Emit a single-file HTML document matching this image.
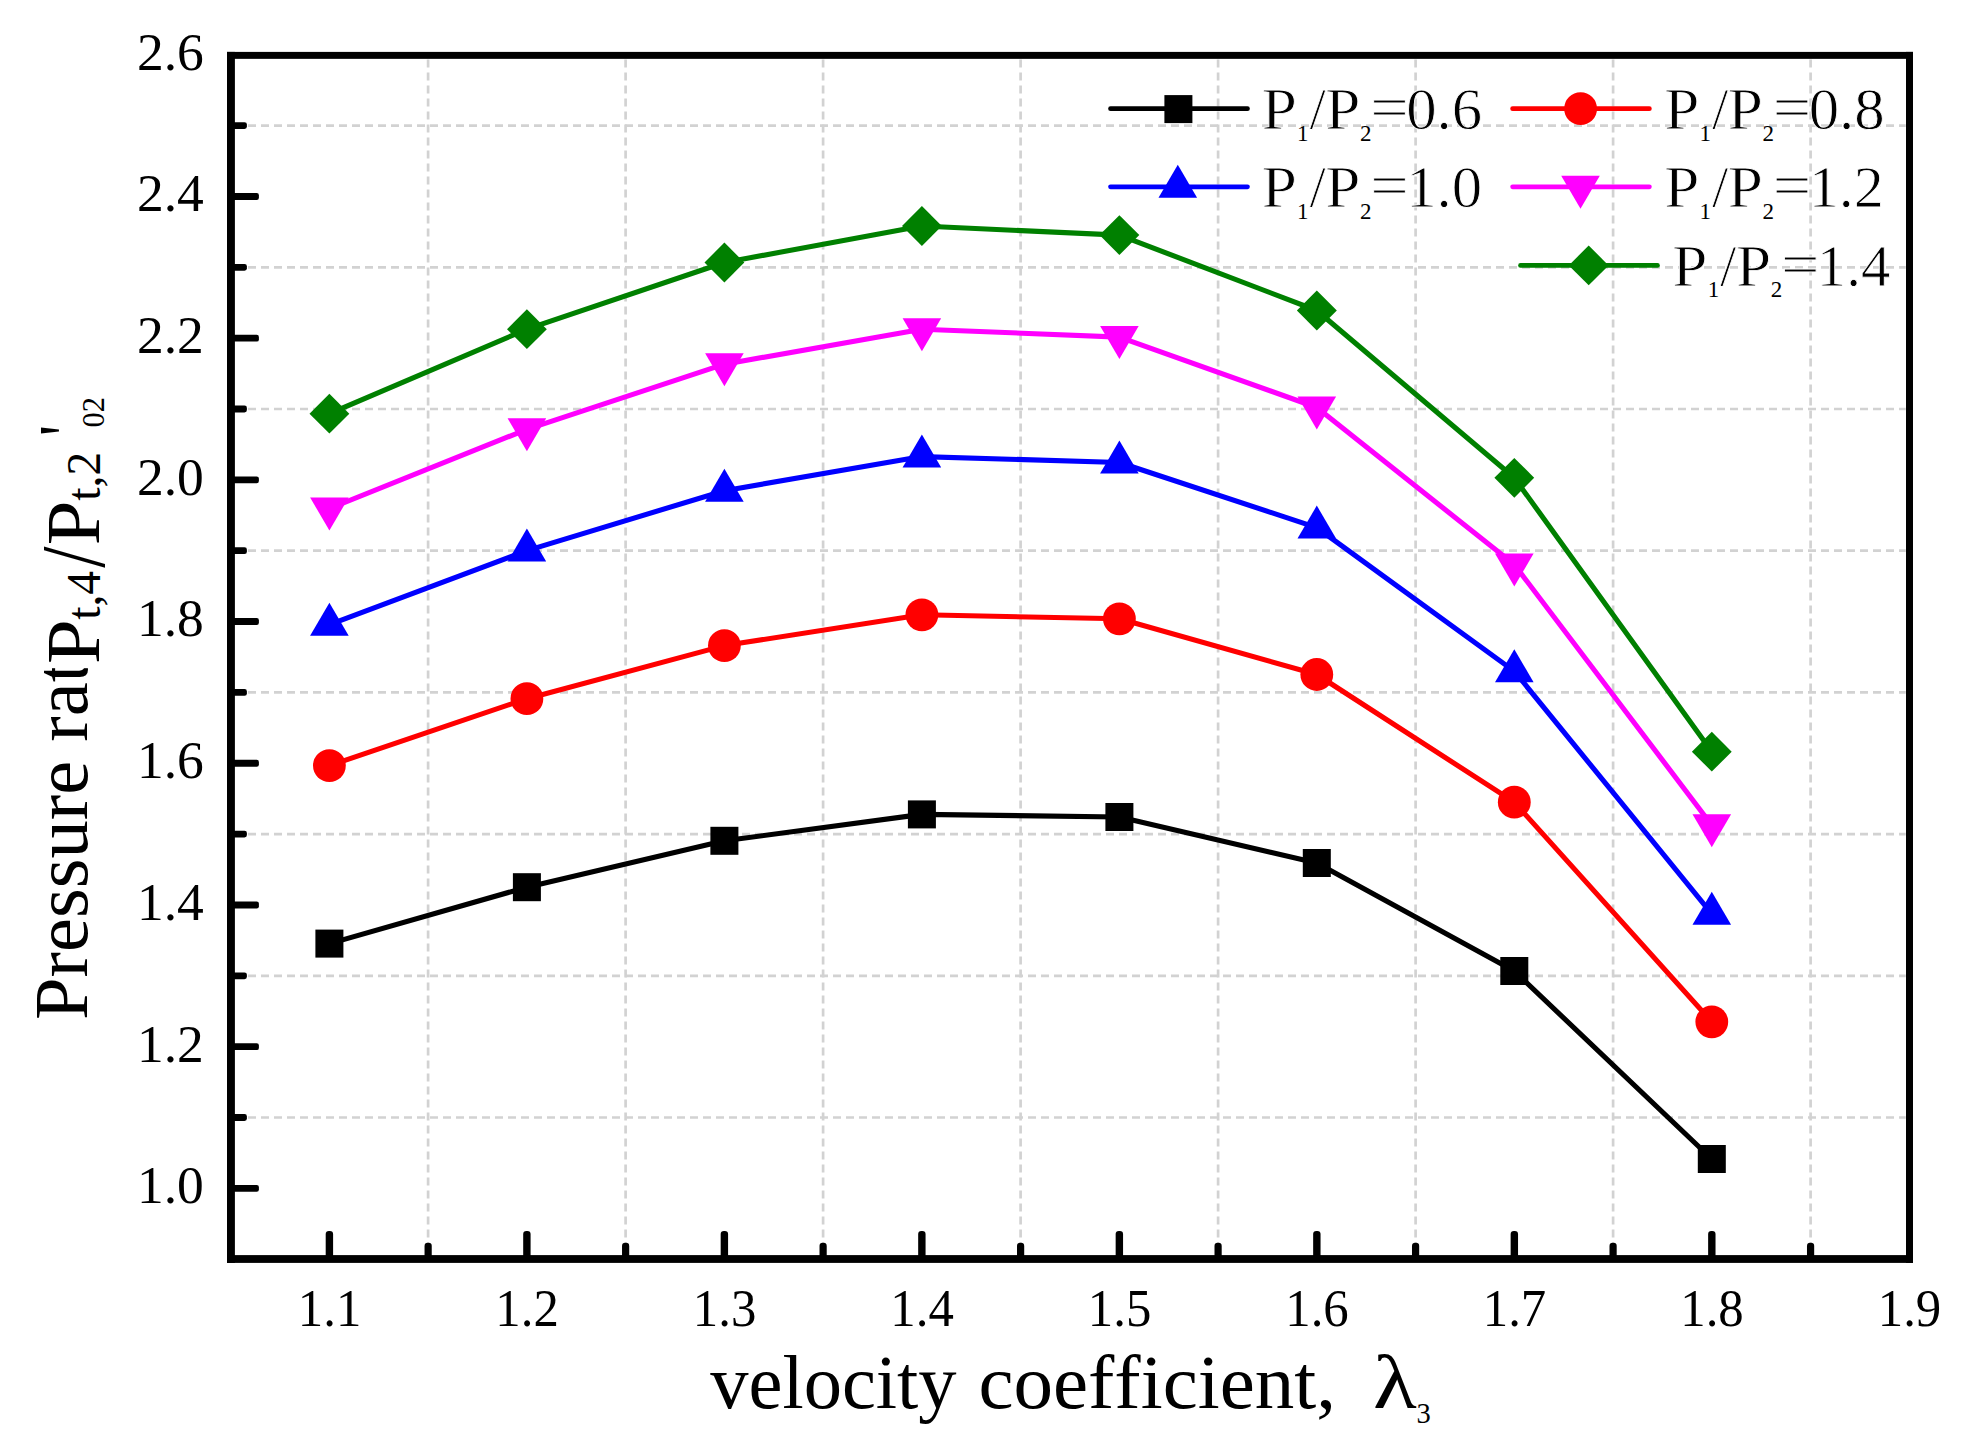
<!DOCTYPE html>
<html lang="en"><head><meta charset="utf-8"><title>Pressure ratio vs velocity coefficient</title>
<style>
html,body{margin:0;padding:0;background:#fff;}
body{width:1966px;height:1447px;overflow:hidden;}
svg{display:block;}
text{font-family:"Liberation Serif","Times New Roman",serif;fill:#000;font-variant-ligatures:none;font-kerning:none;}
.tk{font-size:53.5px;}
.lg{font-size:58.5px;stroke:#fff;stroke-width:0.8px;}
.ls{font-size:23px;stroke:none;}
.ax{font-size:76.5px;}
.as{font-size:47.5px;}
</style></head><body>
<svg width="1966" height="1447" viewBox="0 0 1966 1447">
<rect x="0" y="0" width="1966" height="1447" fill="#ffffff"/>
<g stroke="#d2d2d2" stroke-width="2.7" stroke-dasharray="8 5" fill="none">
<line x1="428.1" y1="59.5" x2="428.1" y2="1255.0"/>
<line x1="625.6" y1="59.5" x2="625.6" y2="1255.0"/>
<line x1="823.1" y1="59.5" x2="823.1" y2="1255.0"/>
<line x1="1020.6" y1="59.5" x2="1020.6" y2="1255.0"/>
<line x1="1218.1" y1="59.5" x2="1218.1" y2="1255.0"/>
<line x1="1415.6" y1="59.5" x2="1415.6" y2="1255.0"/>
<line x1="1613.1" y1="59.5" x2="1613.1" y2="1255.0"/>
<line x1="1810.6" y1="59.5" x2="1810.6" y2="1255.0"/>
<line x1="235.0" y1="1117.5" x2="1905.7" y2="1117.5"/>
<line x1="235.0" y1="975.8" x2="1905.7" y2="975.8"/>
<line x1="235.0" y1="834.1" x2="1905.7" y2="834.1"/>
<line x1="235.0" y1="692.4" x2="1905.7" y2="692.4"/>
<line x1="235.0" y1="550.7" x2="1905.7" y2="550.7"/>
<line x1="235.0" y1="409.0" x2="1905.7" y2="409.0"/>
<line x1="235.0" y1="267.3" x2="1905.7" y2="267.3"/>
<line x1="235.0" y1="125.6" x2="1905.7" y2="125.6"/>
</g>
<polyline points="329.4,943.6 526.9,887.2 724.4,840.8 921.9,814.4 1119.4,817.0 1316.8,863.0 1514.3,971.0 1711.8,1159.0" fill="none" stroke="#000000" stroke-width="5.1" stroke-linejoin="round"/>
<rect x="315.4" y="929.6" width="28.0" height="28.0" fill="#000000"/>
<rect x="512.9" y="873.2" width="28.0" height="28.0" fill="#000000"/>
<rect x="710.4" y="826.8" width="28.0" height="28.0" fill="#000000"/>
<rect x="907.9" y="800.4" width="28.0" height="28.0" fill="#000000"/>
<rect x="1105.4" y="803.0" width="28.0" height="28.0" fill="#000000"/>
<rect x="1302.8" y="849.0" width="28.0" height="28.0" fill="#000000"/>
<rect x="1500.3" y="957.0" width="28.0" height="28.0" fill="#000000"/>
<rect x="1697.8" y="1145.0" width="28.0" height="28.0" fill="#000000"/>
<polyline points="329.4,765.6 526.9,698.7 724.4,645.6 921.9,614.8 1119.4,618.8 1316.8,674.5 1514.3,802.2 1711.8,1021.8" fill="none" stroke="#ff0000" stroke-width="5.1" stroke-linejoin="round"/>
<circle cx="329.4" cy="765.6" r="16.4" fill="#ff0000"/>
<circle cx="526.9" cy="698.7" r="16.4" fill="#ff0000"/>
<circle cx="724.4" cy="645.6" r="16.4" fill="#ff0000"/>
<circle cx="921.9" cy="614.8" r="16.4" fill="#ff0000"/>
<circle cx="1119.4" cy="618.8" r="16.4" fill="#ff0000"/>
<circle cx="1316.8" cy="674.5" r="16.4" fill="#ff0000"/>
<circle cx="1514.3" cy="802.2" r="16.4" fill="#ff0000"/>
<circle cx="1711.8" cy="1021.8" r="16.4" fill="#ff0000"/>
<polyline points="329.4,624.7 526.9,550.6 724.4,490.7 921.9,456.6 1119.4,462.5 1316.8,527.6 1514.3,671.2 1711.8,913.8" fill="none" stroke="#0000ff" stroke-width="5.1" stroke-linejoin="round"/>
<polygon points="329.4,602.7 348.7,635.7 310.1,635.7" fill="#0000ff"/>
<polygon points="526.9,528.6 546.2,561.6 507.6,561.6" fill="#0000ff"/>
<polygon points="724.4,468.7 743.7,501.7 705.1,501.7" fill="#0000ff"/>
<polygon points="921.9,434.6 941.2,467.6 902.6,467.6" fill="#0000ff"/>
<polygon points="1119.4,440.5 1138.7,473.5 1100.1,473.5" fill="#0000ff"/>
<polygon points="1316.8,505.6 1336.1,538.6 1297.5,538.6" fill="#0000ff"/>
<polygon points="1514.3,649.2 1533.6,682.2 1495.0,682.2" fill="#0000ff"/>
<polygon points="1711.8,891.8 1731.1,924.8 1692.5,924.8" fill="#0000ff"/>
<polyline points="329.4,508.5 526.9,429.3 724.4,364.2 921.9,329.2 1119.4,337.1 1316.8,407.5 1514.3,564.6 1711.8,825.2" fill="none" stroke="#ff00ff" stroke-width="5.1" stroke-linejoin="round"/>
<polygon points="329.4,530.5 348.7,497.5 310.1,497.5" fill="#ff00ff"/>
<polygon points="526.9,451.3 546.2,418.3 507.6,418.3" fill="#ff00ff"/>
<polygon points="724.4,386.2 743.7,353.2 705.1,353.2" fill="#ff00ff"/>
<polygon points="921.9,351.2 941.2,318.2 902.6,318.2" fill="#ff00ff"/>
<polygon points="1119.4,359.1 1138.7,326.1 1100.1,326.1" fill="#ff00ff"/>
<polygon points="1316.8,429.5 1336.1,396.5 1297.5,396.5" fill="#ff00ff"/>
<polygon points="1514.3,586.6 1533.6,553.6 1495.0,553.6" fill="#ff00ff"/>
<polygon points="1711.8,847.2 1731.1,814.2 1692.5,814.2" fill="#ff00ff"/>
<polyline points="329.4,413.7 526.9,329.2 724.4,262.5 921.9,226.0 1119.4,235.1 1316.8,310.5 1514.3,477.8 1711.8,751.7" fill="none" stroke="#008000" stroke-width="5.1" stroke-linejoin="round"/>
<polygon points="329.4,393.8 349.3,413.7 329.4,433.6 309.5,413.7" fill="#008000"/>
<polygon points="526.9,309.3 546.8,329.2 526.9,349.1 507.0,329.2" fill="#008000"/>
<polygon points="724.4,242.6 744.3,262.5 724.4,282.4 704.5,262.5" fill="#008000"/>
<polygon points="921.9,206.1 941.8,226.0 921.9,245.9 902.0,226.0" fill="#008000"/>
<polygon points="1119.4,215.2 1139.3,235.1 1119.4,255.0 1099.5,235.1" fill="#008000"/>
<polygon points="1316.8,290.6 1336.8,310.5 1316.8,330.4 1296.9,310.5" fill="#008000"/>
<polygon points="1514.3,457.9 1534.2,477.8 1514.3,497.7 1494.4,477.8" fill="#008000"/>
<polygon points="1711.8,731.8 1731.7,751.7 1711.8,771.6 1691.9,751.7" fill="#008000"/>
<g fill="#000">
<rect x="230" y="1184.90" width="28.9" height="6.9" rx="2.2"/>
<rect x="230" y="1043.20" width="28.9" height="6.9" rx="2.2"/>
<rect x="230" y="901.50" width="28.9" height="6.9" rx="2.2"/>
<rect x="230" y="759.80" width="28.9" height="6.9" rx="2.2"/>
<rect x="230" y="618.10" width="28.9" height="6.9" rx="2.2"/>
<rect x="230" y="476.40" width="28.9" height="6.9" rx="2.2"/>
<rect x="230" y="334.70" width="28.9" height="6.9" rx="2.2"/>
<rect x="230" y="193.00" width="28.9" height="6.9" rx="2.2"/>
<rect x="230" y="1114.10" width="16.9" height="6.8" rx="2.4"/>
<rect x="230" y="972.40" width="16.9" height="6.8" rx="2.4"/>
<rect x="230" y="830.70" width="16.9" height="6.8" rx="2.4"/>
<rect x="230" y="689.00" width="16.9" height="6.8" rx="2.4"/>
<rect x="230" y="547.30" width="16.9" height="6.8" rx="2.4"/>
<rect x="230" y="405.60" width="16.9" height="6.8" rx="2.4"/>
<rect x="230" y="263.90" width="16.9" height="6.8" rx="2.4"/>
<rect x="230" y="122.20" width="16.9" height="6.8" rx="2.4"/>
<rect x="325.70" y="1230.9" width="7.4" height="28" rx="3.2"/>
<rect x="523.19" y="1230.9" width="7.4" height="28" rx="3.2"/>
<rect x="720.68" y="1230.9" width="7.4" height="28" rx="3.2"/>
<rect x="918.17" y="1230.9" width="7.4" height="28" rx="3.2"/>
<rect x="1115.66" y="1230.9" width="7.4" height="28" rx="3.2"/>
<rect x="1313.15" y="1230.9" width="7.4" height="28" rx="3.2"/>
<rect x="1510.64" y="1230.9" width="7.4" height="28" rx="3.2"/>
<rect x="1708.13" y="1230.9" width="7.4" height="28" rx="3.2"/>
<rect x="424.54" y="1242.7" width="7.2" height="16" rx="3.2"/>
<rect x="622.03" y="1242.7" width="7.2" height="16" rx="3.2"/>
<rect x="819.52" y="1242.7" width="7.2" height="16" rx="3.2"/>
<rect x="1017.01" y="1242.7" width="7.2" height="16" rx="3.2"/>
<rect x="1214.50" y="1242.7" width="7.2" height="16" rx="3.2"/>
<rect x="1411.99" y="1242.7" width="7.2" height="16" rx="3.2"/>
<rect x="1609.49" y="1242.7" width="7.2" height="16" rx="3.2"/>
<rect x="1806.98" y="1242.7" width="7.2" height="16" rx="3.2"/>
</g>
<g fill="#000">
<rect x="227.0" y="51.9" width="7.9" height="1211.0"/>
<rect x="227.0" y="1255.1" width="1686.0" height="7.8"/>
<rect x="227.0" y="51.9" width="1686.0" height="6.95"/>
<rect x="1906.0" y="51.9" width="7.0" height="1211.0"/>
</g>
<text class="tk" x="203.8" y="1203.2" text-anchor="end">1.0</text>
<text class="tk" x="203.8" y="1061.5" text-anchor="end">1.2</text>
<text class="tk" x="203.8" y="919.8" text-anchor="end">1.4</text>
<text class="tk" x="203.8" y="778.0" text-anchor="end">1.6</text>
<text class="tk" x="203.8" y="636.4" text-anchor="end">1.8</text>
<text class="tk" x="203.8" y="494.7" text-anchor="end">2.0</text>
<text class="tk" x="203.8" y="352.9" text-anchor="end">2.2</text>
<text class="tk" x="203.8" y="211.2" text-anchor="end">2.4</text>
<text class="tk" x="203.8" y="69.5" text-anchor="end">2.6</text>
<text class="tk" transform="translate(329.6,1326.2) scale(0.95,1)" text-anchor="middle">1.1</text>
<text class="tk" transform="translate(527.1,1326.2) scale(0.95,1)" text-anchor="middle">1.2</text>
<text class="tk" transform="translate(724.6,1326.2) scale(0.95,1)" text-anchor="middle">1.3</text>
<text class="tk" transform="translate(922.1,1326.2) scale(0.95,1)" text-anchor="middle">1.4</text>
<text class="tk" transform="translate(1119.6,1326.2) scale(0.95,1)" text-anchor="middle">1.5</text>
<text class="tk" transform="translate(1317.0,1326.2) scale(0.95,1)" text-anchor="middle">1.6</text>
<text class="tk" transform="translate(1514.5,1326.2) scale(0.95,1)" text-anchor="middle">1.7</text>
<text class="tk" transform="translate(1712.0,1326.2) scale(0.95,1)" text-anchor="middle">1.8</text>
<text class="tk" transform="translate(1909.5,1326.2) scale(0.95,1)" text-anchor="middle">1.9</text>
<line x1="1110.5" y1="108.7" x2="1247.5" y2="108.7" stroke="#000000" stroke-width="4.7" stroke-linecap="round"/>
<rect x="1164.4" y="95.1" width="28.0" height="28.0" fill="#000000"/>
<text class="lg"><tspan x="1261.7" y="129.1" textLength="35.15" lengthAdjust="spacingAndGlyphs">P</tspan><tspan class="ls" x="1297.1" y="140.8">1</tspan><tspan x="1309.5" y="129.1">/</tspan><tspan x="1325.3" y="129.1" textLength="35.15" lengthAdjust="spacingAndGlyphs">P</tspan><tspan class="ls" x="1360.1" y="140.8">2</tspan><tspan x="1370.3" y="127.1" textLength="38.45" lengthAdjust="spacingAndGlyphs">=</tspan><tspan x="1406.2" y="129.1" textLength="76.04" lengthAdjust="spacingAndGlyphs">0.6</tspan></text>
<line x1="1512.6" y1="108.7" x2="1649.4" y2="108.7" stroke="#ff0000" stroke-width="4.7" stroke-linecap="round"/>
<circle cx="1580.6" cy="108.7" r="16.4" fill="#ff0000"/>
<text class="lg"><tspan x="1664.2" y="129.1" textLength="35.15" lengthAdjust="spacingAndGlyphs">P</tspan><tspan class="ls" x="1699.6" y="140.8">1</tspan><tspan x="1712.0" y="129.1">/</tspan><tspan x="1727.8" y="129.1" textLength="35.15" lengthAdjust="spacingAndGlyphs">P</tspan><tspan class="ls" x="1762.6" y="140.8">2</tspan><tspan x="1772.8" y="127.1" textLength="38.45" lengthAdjust="spacingAndGlyphs">=</tspan><tspan x="1808.7" y="129.1" textLength="76.04" lengthAdjust="spacingAndGlyphs">0.8</tspan></text>
<line x1="1110.5" y1="186.8" x2="1247.5" y2="186.8" stroke="#0000ff" stroke-width="4.7" stroke-linecap="round"/>
<polygon points="1177.8,164.8 1197.1,197.8 1158.5,197.8" fill="#0000ff"/>
<text class="lg"><tspan x="1261.7" y="207.4" textLength="35.15" lengthAdjust="spacingAndGlyphs">P</tspan><tspan class="ls" x="1297.1" y="219.1">1</tspan><tspan x="1309.5" y="207.4">/</tspan><tspan x="1325.3" y="207.4" textLength="35.15" lengthAdjust="spacingAndGlyphs">P</tspan><tspan class="ls" x="1360.1" y="219.1">2</tspan><tspan x="1370.3" y="205.4" textLength="38.45" lengthAdjust="spacingAndGlyphs">=</tspan><tspan x="1406.2" y="207.4" textLength="76.04" lengthAdjust="spacingAndGlyphs">1.0</tspan></text>
<line x1="1512.6" y1="186.8" x2="1649.4" y2="186.8" stroke="#ff00ff" stroke-width="4.7" stroke-linecap="round"/>
<polygon points="1580.5,208.8 1599.8,175.8 1561.2,175.8" fill="#ff00ff"/>
<text class="lg"><tspan x="1664.2" y="207.4" textLength="35.15" lengthAdjust="spacingAndGlyphs">P</tspan><tspan class="ls" x="1699.6" y="219.1">1</tspan><tspan x="1712.0" y="207.4">/</tspan><tspan x="1727.8" y="207.4" textLength="35.15" lengthAdjust="spacingAndGlyphs">P</tspan><tspan class="ls" x="1762.6" y="219.1">2</tspan><tspan x="1772.8" y="205.4" textLength="38.45" lengthAdjust="spacingAndGlyphs">=</tspan><tspan x="1808.7" y="207.4" textLength="74.95" lengthAdjust="spacingAndGlyphs">1.2</tspan></text>
<line x1="1520.5" y1="265.4" x2="1657.5" y2="265.4" stroke="#008000" stroke-width="4.7" stroke-linecap="round"/>
<polygon points="1588.7,245.5 1608.6,265.4 1588.7,285.3 1568.8,265.4" fill="#008000"/>
<text class="lg"><tspan x="1672.3" y="285.5" textLength="35.15" lengthAdjust="spacingAndGlyphs">P</tspan><tspan class="ls" x="1707.7" y="297.2">1</tspan><tspan x="1720.1" y="285.5">/</tspan><tspan x="1735.9" y="285.5" textLength="35.15" lengthAdjust="spacingAndGlyphs">P</tspan><tspan class="ls" x="1770.7" y="297.2">2</tspan><tspan x="1780.9" y="283.5" textLength="38.45" lengthAdjust="spacingAndGlyphs">=</tspan><tspan x="1816.8" y="285.5" textLength="73.49" lengthAdjust="spacingAndGlyphs">1.4</tspan></text>
<text class="ax"><tspan x="710.2" y="1407.7">velocity</tspan> <tspan x="978.4" y="1407.7" textLength="357.58" lengthAdjust="spacingAndGlyphs">coefficient,</tspan> <tspan x="1373.0" y="1408.0" textLength="43.77" lengthAdjust="spacingAndGlyphs">λ</tspan><tspan x="1416.6" y="1423.4" style="font-size:28.5px">3</tspan></text>
<text class="ax" transform="rotate(-90)" x="-1020.1" y="87.0">Pressure rat</text>
<rect x="30" y="640" width="62" height="28.2" fill="#fff"/>
<text class="ax" transform="rotate(-90)"><tspan x="-664.1" y="98.7" textLength="44.68" lengthAdjust="spacingAndGlyphs">P</tspan><tspan class="as" x="-619.8" y="100.0">t,4</tspan><tspan x="-567.8" y="103.6" style="font-size:91.8px" textLength="21.27" lengthAdjust="spacingAndGlyphs">/</tspan><tspan x="-545.2" y="98.7" textLength="44.68" lengthAdjust="spacingAndGlyphs">P</tspan><tspan class="as" x="-500.7" y="100.0">t,2</tspan><tspan x="-436.0" y="90.6" textLength="11.04" lengthAdjust="spacingAndGlyphs">'</tspan><tspan x="-427.4" y="104.4" style="font-size:30.5px">02</tspan></text>
</svg>
</body></html>
